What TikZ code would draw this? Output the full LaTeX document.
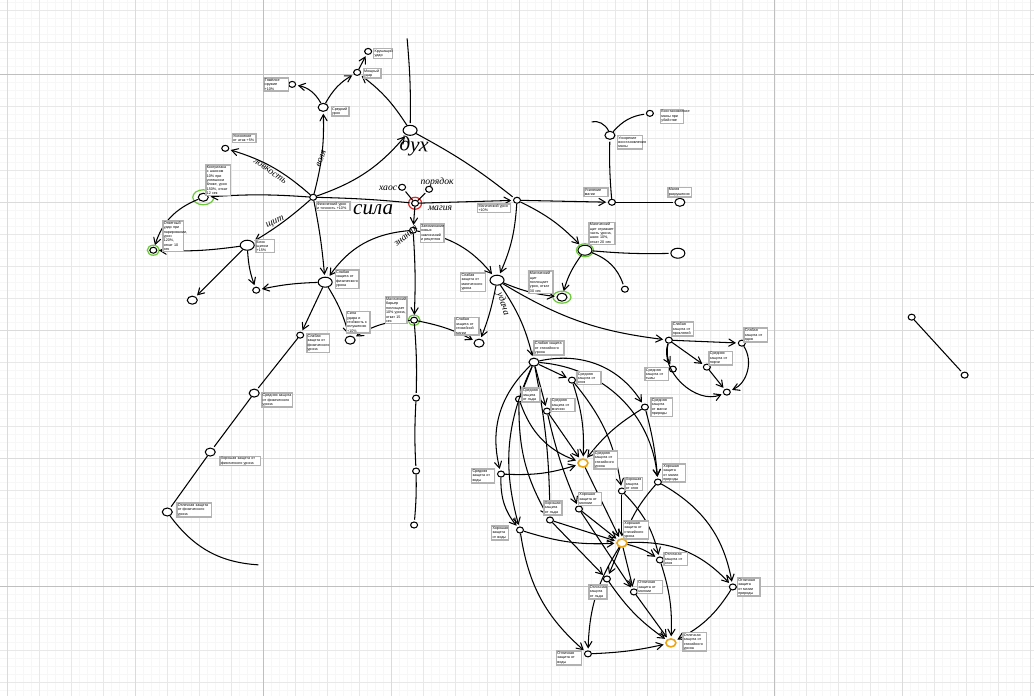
\documentclass[tikz,border=0pt]{standalone}
\usepackage{fontspec}
\setmainfont{Liberation Serif}
\newfontfamily\memofont{Liberation Sans}
\usepackage{tikz}
\usetikzlibrary{arrows,shapes.geometric}

\definecolor{ringgreen}{RGB}{110,200,60}
\definecolor{ringred}{RGB}{225,45,45}
\definecolor{ringorange}{RGB}{235,165,20}

\newcommand\memotext{\memofont\fontsize{2.1}{2.5}\selectfont}
\newcommand\handbig{\itshape\fontsize{12}{12}\selectfont}
\newcommand\handsmall{\itshape\fontsize{5.5}{5.5}\selectfont}

\begin{document}
\begin{tikzpicture}[->,>=angle 60,shorten >=1pt,auto,semithick,x=0.02cm,y=-0.02cm,
    vtx/.style={draw,ellipse,fill=white,inner sep=0pt,minimum width=0.14cm,minimum height=0.12cm},
    md/.style={minimum width=0.2cm,minimum height=0.16cm},
    lg/.style={minimum width=0.28cm,minimum height=0.2cm},
    ring/.style={draw=#1,ellipse,inner sep=0pt,line width=0.7pt},
    memo/.style={draw=gray!60,line width=0.8pt,fill=white,inner sep=0.5pt,font=\memotext,align=left,text width=#1},
    hand/.style={font=\handsmall,inner sep=0pt},
    gridfine/.style={-,shorten >=0pt,gray!6,line width=0.3pt},
    gridmid/.style={-,shorten >=0pt,gray!18,line width=0.4pt},
    gridbig/.style={-,shorten >=0pt,gray!28,line width=0.4pt},
    gridmain/.style={-,shorten >=0pt,gray!50,line width=0.5pt}]

  % paper
  \fill[white] (0,0) rectangle (1034,696);
  \foreach \x in {7,15,...,1034} \draw[gridfine] (\x,0) -- (\x,696);
  \foreach \y in {2,10,...,696} \draw[gridfine] (0,\y) -- (1034,\y);
  \foreach \x in {7,39,...,1034} \draw[gridmid] (\x,0) -- (\x,696);
  \foreach \y in {10,42,...,696} \draw[gridmid] (0,\y) -- (1034,\y);
  \foreach \x in {7,135,...,1034} \draw[gridbig] (\x,0) -- (\x,696);
  \foreach \y in {74,202,...,696} \draw[gridbig] (0,\y) -- (1034,\y);
  \foreach \x in {263,775} \draw[gridmain] (\x,0) -- (\x,696);
  \foreach \y in {74,586} \draw[gridmain] (0,\y) -- (1034,\y);
  \useasboundingbox (0,0) rectangle (1034,696);

  % upper tree
  \coordinate (tp) at (407,38);
  \node[vtx,lg]  (dux) at (410,130) {};
  \node[vtx,md]  (a1)  at (323,107) {};
  \node[vtx]     (a2)  at (357,72)  {};
  \node[vtx]     (a3)  at (368,51)  {};
  \node[vtx]     (a4)  at (292,84)  {};
  \node[vtx]     (hub) at (313,197) {};
  \node[vtx]     (f1)  at (225,148) {};
  \node[vtx,md]  (g1)  at (203,197) {};
  \node[vtx]     (g2)  at (153,250) {};
  \node[vtx,lg]  (l1)  at (247,245) {};
  \node[vtx,md]  (l2)  at (192,300) {};
  \node[vtx]     (l3)  at (256,290) {};
  \node[vtx,lg]  (mm)  at (325,282) {};
  \node[vtx]     (p1)  at (300,335) {};
  \node[vtx,md]  (p2)  at (254,393) {};
  \node[vtx,md]  (p3)  at (210,452) {};
  \node[vtx,md]  (p4)  at (167,512) {};
  \coordinate (pe) at (260,565);
  \node[vtx,md]  (q)   at (350,340) {};
  \node[vtx]     (mag) at (415,203) {};
  \node[vtx]     (chaos) at (402,187) {};
  \node[vtx]     (order) at (429,189) {};
  \node[vtx]     (k)   at (413,230) {};
  \node[vtx]     (s)   at (517,200) {};
  \node[vtx,lg]  (t)   at (497,280) {};
  \node[vtx]     (u)   at (612,202) {};
  \node[vtx,md]  (v)   at (680,202) {};
  \node[vtx,md]  (w)   at (610,135) {};
  \coordinate (wend) at (590,122);
  \node[vtx]     (x)   at (650,113) {};
  \node[vtx,lg]  (y)   at (585,250) {};
  \node[vtx,lg]  (z)   at (678,253) {};
  \node[vtx]     (yd)  at (625,289) {};
  \node[vtx,md]  (gr)  at (562,297) {};
  \node[vtx]     (kg)  at (414,320) {};
  \node[vtx]     (k2)  at (416,398) {};
  \node[vtx]     (k3)  at (416,471) {};
  \node[vtx]     (k4)  at (414,525) {};
  \node[vtx,md]  (r1)  at (479,343) {};
  \node[vtx]     (e1)  at (912,317) {};
  \node[vtx]     (e2)  at (965,375) {};

  % loop on the right
  \node[vtx] (o1) at (669,340) {};
  \node[vtx] (o2) at (742,343) {};
  \node[vtx] (o3) at (707,367) {};
  \node[vtx] (o5) at (673,369) {};
  \node[vtx] (o4) at (727,392) {};

  % lower cluster
  \node[vtx,md] (n1)  at (534,362) {};
  \node[vtx]    (n2)  at (572,380) {};
  \node[vtx]    (n3)  at (519,399) {};
  \node[vtx]    (n4)  at (547,411) {};
  \node[vtx]    (n5)  at (645,407) {};
  \node[vtx,md,draw=ringorange,line width=0.9pt] (ora) at (583,463) {};
  \node[vtx]    (n6)  at (501,474) {};
  \node[vtx]    (n7)  at (658,482) {};
  \node[vtx]    (n8)  at (622,491) {};
  \node[vtx]    (n9)  at (579,509) {};
  \node[vtx]    (n10) at (550,520) {};
  \node[vtx]    (n11) at (520,530) {};
  \node[vtx,md,draw=ringorange,line width=0.9pt] (orb) at (622,543) {};
  \node[vtx]    (n12) at (660,560) {};
  \node[vtx]    (n13) at (607,579) {};
  \node[vtx]    (n14) at (634,592) {};
  \node[vtx]    (n15) at (733,587) {};
  \node[vtx,md,draw=ringorange,line width=0.9pt] (orc) at (671,643) {};
  \node[vtx]    (n16) at (588,654) {};

  % marks
  \node[ring=ringgreen,minimum width=0.42cm,minimum height=0.3cm] (g1r) at (g1) {};
  \node[ring=ringgreen,minimum width=0.24cm,minimum height=0.2cm] (g2r) at (g2) {};
  \node[ring=ringred,minimum width=0.26cm,minimum height=0.24cm] (magr) at (mag) {};
  \node[ring=ringgreen,minimum width=0.34cm,minimum height=0.26cm] (yr) at (y) {};
  \node[ring=ringgreen,minimum width=0.36cm,minimum height=0.24cm] (grr) at (gr) {};
  \node[ring=ringgreen,minimum width=0.24cm,minimum height=0.2cm] (kgr) at (kg) {};

  % connections
  \path (tp) edge[-,bend left=3] (dux);
  \path (a1) edge[bend left=15] (a2);
  \path (a2) edge (a3);
  \path (dux) edge[bend right=10] (a2);
  \path (a1) edge[bend right=25] (a4);
  \path (hub) edge[bend right=8] (a1);
  \path (hub) edge[bend right=12] (f1);
  \path (hub) edge[bend right=15] (dux);
  \path (dux) edge[-,bend left=5] (s);
  \path (hub) edge[bend right=4] (g1);
  \path (g1) edge[bend right=25] (g2);
  \path (hub) edge[bend left=5] (l1);
  \path (l1) edge[bend left=5] (g2);
  \path (l1) edge (l2);
  \path (l1) edge[bend right=8] (l3);
  \path (mm) edge[bend right=5] (l3);
  \path (hub) edge[bend left=3] (mm);
  \path (mm) edge (p1);
  \path (mm) edge[bend left=8] (q);
  \path (p1) edge[-] (p2);
  \path (p2) edge[-] (p3);
  \path (p3) edge[-] (p4);
  \path (p4) edge[-,bend right=25] (pe);
  \path (hub) edge[-,bend left=2] (mag);
  \path (mag) edge (s);
  \path (mag) edge[-] (chaos);
  \path (mag) edge[-] (order);
  \path (mag) edge (k);
  \path (k) edge[bend right=25] (mm);
  \path (k) edge[bend left=20] (t);
  \path (s) edge[bend left=10] (t);
  \path (s) edge (u);
  \path (u) edge[-] (v);
  \path (u) edge[-,bend left=3] (w);
  \path (w) edge[-,bend right=40] (wend);
  \path (w) edge[-,bend left=20] (x);
  \path (s) edge[bend left=10] (y);
  \path (y) edge[-,bend right=3] (z);
  \path (y) edge[-,bend left=25] (yd);
  \path (y) edge[bend right=10] (gr);
  \path (t) edge[bend right=8] (gr);
  \path (k) edge[bend left=3] (kg);
  \path (kg) edge[bend right=15] (q);
  \path (kg) edge[bend left=8] (r1);
  \path (t) edge[bend left=5] (r1);
  \path (kg) edge[-,bend left=3] (k2);
  \path (k2) edge[-,bend right=3] (k3);
  \path (k3) edge[-,bend left=3] (k4);
  \path (e1) edge[-] (e2);
  \path (t) edge[bend left=10] (n1);
  \path (t) edge[bend right=12] (o1);

  \path (o1) edge (o2);
  \path (o1) edge[bend right=20] (o5);
  \path (o1) edge[bend right=65] (o4);
  \path (o1) edge (o3);
  \path (o3) edge (o4);
  \path (o2) edge[bend left=50] (o4);

  \path (n1) edge (n2);
  \path (n1) edge (n3);
  \path (n1) edge (n4);
  \path (n1) edge[bend left=35] (n5);
  \path (n1) edge[bend left=40] (n7);
  \path (n1) edge[bend right=30] (n6);
  \path (n1) edge[bend right=20] (n11);
  \path (n1) edge[bend left=5] (n10);
  \path (n3) edge[bend right=25] (ora);
  \path (n4) edge (ora);
  \path (n2) edge[bend left=10] (ora);
  \path (n2) edge[bend left=15] (n8);
  \path (n5) edge[bend right=10] (ora);
  \path (n5) edge[bend left=5] (n7);
  \path (n6) edge[bend right=10] (ora);
  \path (n6) edge[bend right=20] (n11);
  \path (n3) edge[bend right=15] (n10);
  \path (n4) edge[bend right=5] (n9);
  \path (ora) edge (orb);
  \path (n8) edge (orb);
  \path (n8) edge[bend left=15] (n12);
  \path (n7) edge[bend right=10] (orb);
  \path (n7) edge[bend left=25] (n15);
  \path (n9) edge (orb);
  \path (n9) edge (n14);
  \path (n10) edge (orb);
  \path (n10) edge (n13);
  \path (n11) edge[bend right=10] (orb);
  \path (n11) edge[bend right=20] (n16);
  \path (orb) edge[bend left=10] (n12);
  \path (orb) edge (n13);
  \path (orb) edge (n14);
  \path (orb) edge[bend left=25] (n15);
  \path (orb) edge[bend right=15] (n16);
  \path (n12) edge[bend left=10] (orc);
  \path (n13) edge[bend right=10] (orc);
  \path (n14) edge (orc);
  \path (n15) edge[bend left=15] (orc);
  \path (n16) edge[bend right=5] (orc);

  % hand labels
  \node[hand,font=\handbig,rotate=-3] (duxl) at (414,146) {дух};
  \node[hand,font=\handbig] (silal) at (373,209) {сила};
  \node[hand] (chaosl) at (388,188) {хаос};
  \node[hand] (orderl) at (437,182) {порядок};
  \node[hand] (magl)   at (440,208) {магия};
  \node[hand,rotate=-35] (lovl) at (270,171) {ловкость};
  \node[hand,rotate=70]  (volal) at (321,158) {воля};
  \node[hand,rotate=24]  (shitl) at (275,222) {щит};
  \node[hand,rotate=40]  (znl) at (406,236) {знания};
  \node[hand,rotate=-72] (udl) at (503,304) {удача};

  % notes
  \node[memo=0.32cm] (a1n) at (340,111) {Средний урон};
  \node[memo=0.32cm] (a2n) at (372,73) {Мощный удар};
  \node[memo=0.34cm] (a3n) at (383,53) {Крушащий удар};
  \node[memo=0.46cm] (a4n) at (276,84) {Тяжёлое оружие +10\%};
  \node[memo=0.44cm] (f1n) at (244,138) {Уклонение от атак +5\%};
  \node[memo=0.46cm] (g1n) at (218,180) {Контратака с шансом 10\% при успешном блоке, урон 150\%, откат 12 сек};
  \node[memo=0.64cm] (hubn) at (333,206) {Физический урон и точность +10\%};
  \node[memo=0.34cm] (l1n) at (265,246) {Блок щитом +15\%};
  \node[memo=0.38cm] (g2n) at (173,236) {Ответный удар при парировании, урон 120\%, откат 10 сек};
  \node[memo=0.44cm] (mmn) at (347,279) {Слабая защита от физического урона};
  \node[memo=0.44cm] (qn) at (358,322) {Сила удара и стойкость к оглушению +10\%};
  \node[memo=0.42cm] (p1n) at (318,343) {Слабая защита от физического урона};
  \node[memo=0.58cm] (p2n) at (277,400) {Средняя защита от физического урона};
  \node[memo=0.78cm] (p3n) at (240,461) {Хорошая защита от физического урона};
  \node[memo=0.66cm] (p4n) at (194,510) {Отличная защита от физического урона};
  \node[memo=0.44cm] (kn) at (432,233) {Запоминание новых заклинаний и рецептов};
  \node[memo=0.40cm] (kgn) at (396,310) {Магический барьер поглощает 10\% урона, откат 15 сек};
  \node[memo=0.46cm] (tn) at (473,282) {Слабая защита от магического урона};
  \node[memo=0.44cm] (r1n) at (467,326) {Слабая защита от стихийной магии};
  \node[memo=0.62cm] (sn) at (494,208) {Магический урон +10\%};
  \node[memo=0.44cm] (un) at (596,192) {Усиление магии};
  \node[memo=0.44cm] (vn) at (680,192) {Магия разрушения};
  \node[memo=0.46cm] (wn) at (630,142) {Ускорение восстановления маны};
  \node[memo=0.42cm] (xn) at (672,116) {Восстановление маны при убийстве};
  \node[memo=0.48cm] (yn) at (602,233) {Магический щит отражает часть урона, шанс 10\%, откат 20 сек};
  \node[memo=0.44cm] (grn) at (541,282) {Магический щит поглощает урон, откат 30 сек};
  \node[memo=0.40cm] (o1n) at (683,329) {Слабая защита от проклятий};
  \node[memo=0.44cm] (o2n) at (756,335) {Слабая защита от ядов};
  \node[memo=0.44cm] (o3n) at (721,358) {Средняя защита от порчи};
  \node[memo=0.44cm] (o5n) at (657,374) {Средняя защита от тьмы};
  \node[memo=0.56cm] (n1n) at (549,348) {Слабая защита от стихийного урона};
  \node[memo=0.44cm] (n2n) at (589,378) {Средняя защита от огня};
  \node[memo=0.32cm] (n3n) at (531,395) {Средняя защита от льда};
  \node[memo=0.44cm] (n4n) at (563,405) {Средняя защита от молнии};
  \node[memo=0.40cm] (n5n) at (662,407) {Средняя защита от магии природы};
  \node[memo=0.44cm] (oran) at (606,460) {Средняя защита от стихийного урона};
  \node[memo=0.42cm] (n6n) at (483,476) {Средняя защита от воды};
  \node[memo=0.42cm] (n7n) at (674,473) {Хорошая защита от магии природы};
  \node[memo=0.32cm] (n8n) at (634,484) {Хорошая защита от огня};
  \node[memo=0.42cm] (n9n) at (590,499) {Хорошая защита от молнии};
  \node[memo=0.32cm] (n10n) at (553,508) {Хорошая защита от льда};
  \node[memo=0.30cm] (n11n) at (500,533) {Хорошая защита от воды};
  \node[memo=0.46cm] (orbn) at (636,530) {Хорошая защита от стихийного урона};
  \node[memo=0.44cm] (n12n) at (676,559) {Отличная защита от огня};
  \node[memo=0.32cm] (n13n) at (598,592) {Отличная защита от льда};
  \node[memo=0.46cm] (n14n) at (650,587) {Отличная защита от молнии};
  \node[memo=0.42cm] (n15n) at (749,587) {Отличная защита от магии природы};
  \node[memo=0.44cm] (orcn) at (695,642) {Отличная защита от стихийного урона};
  \node[memo=0.46cm] (n16n) at (569,658) {Отличная защита от воды};
\end{tikzpicture}
\end{document}
